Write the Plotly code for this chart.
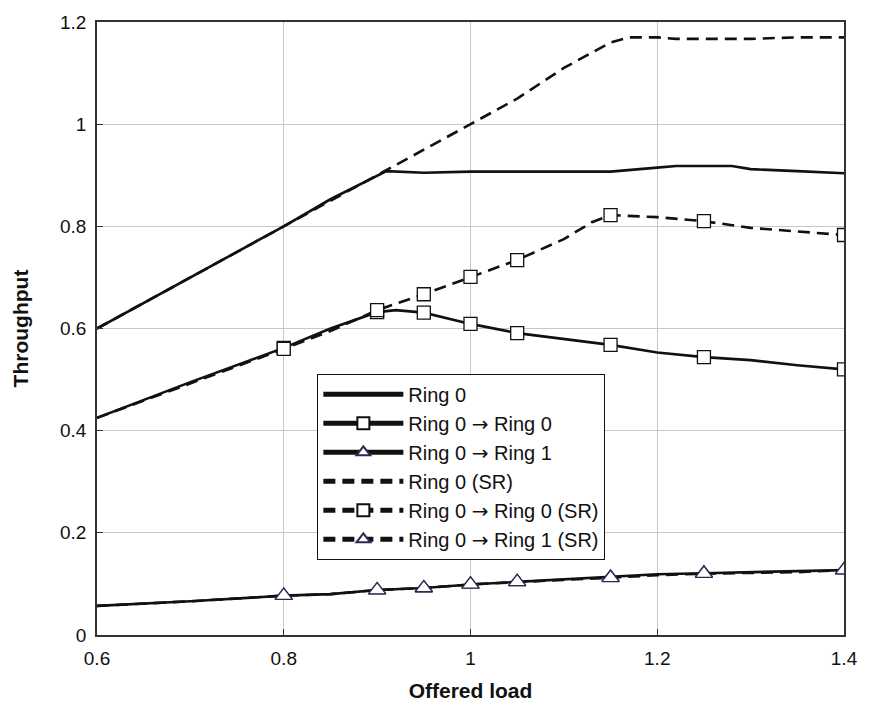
import plotly.graph_objects as go

# ---- data ----
ring0_x = [0.6, 0.7, 0.8, 0.85, 0.9, 0.91, 0.95, 1.0, 1.05, 1.1, 1.15, 1.2, 1.22, 1.28, 1.3, 1.35, 1.4]
ring0_y = [0.60, 0.70, 0.80, 0.853, 0.90, 0.908, 0.905, 0.907, 0.907, 0.907, 0.907, 0.915, 0.918, 0.918, 0.912, 0.908, 0.904]

ring0_sr_x = [0.6, 0.7, 0.8, 0.85, 0.9, 0.95, 1.0, 1.05, 1.1, 1.15, 1.17, 1.2, 1.22, 1.3, 1.35, 1.4]
ring0_sr_y = [0.60, 0.70, 0.80, 0.85, 0.90, 0.95, 1.0, 1.05, 1.11, 1.16, 1.17, 1.17, 1.167, 1.167, 1.17, 1.17]

r00_x = [0.6, 0.7, 0.8, 0.85, 0.9, 0.92, 0.95, 1.0, 1.05, 1.1, 1.15, 1.2, 1.25, 1.3, 1.35, 1.4]
r00_y = [0.425, 0.495, 0.562, 0.60, 0.632, 0.636, 0.631, 0.609, 0.591, 0.580, 0.568, 0.553, 0.544, 0.538, 0.528, 0.520]
r00_mark = [0, 0, 1, 0, 1, 0, 1, 1, 1, 0, 1, 0, 1, 0, 0, 1]

r00_sr_x = [0.6, 0.7, 0.8, 0.85, 0.9, 0.95, 1.0, 1.05, 1.1, 1.13, 1.15, 1.2, 1.25, 1.3, 1.35, 1.4]
r00_sr_y = [0.425, 0.492, 0.560, 0.595, 0.636, 0.667, 0.701, 0.734, 0.775, 0.808, 0.822, 0.818, 0.810, 0.797, 0.790, 0.783]
r00_sr_mark = [0, 0, 1, 0, 1, 1, 1, 1, 0, 0, 1, 0, 1, 0, 0, 1]

r01_x = [0.6, 0.7, 0.8, 0.85, 0.9, 0.95, 1.0, 1.05, 1.1, 1.15, 1.2, 1.25, 1.3, 1.35, 1.4]
r01_y = [0.057, 0.066, 0.077, 0.080, 0.088, 0.092, 0.099, 0.104, 0.109, 0.113, 0.119, 0.121, 0.123, 0.125, 0.127]
r01_mark = [0, 0, 1, 0, 1, 1, 1, 1, 0, 1, 0, 1, 0, 0, 1]

r01_sr_x = [0.6, 0.7, 0.8, 0.85, 0.9, 0.95, 1.0, 1.05, 1.1, 1.15, 1.2, 1.25, 1.3, 1.35, 1.4]
r01_sr_y = [0.057, 0.066, 0.077, 0.080, 0.088, 0.092, 0.099, 0.104, 0.108, 0.112, 0.117, 0.120, 0.121, 0.123, 0.127]
r01_sr_mark = [0, 0, 1, 0, 1, 1, 1, 1, 0, 1, 0, 1, 0, 0, 1]

ARROW = '<span style="font-family:DejaVu Sans">→</span>'
names = ["Ring 0", f"Ring 0 {ARROW} Ring 0", f"Ring 0 {ARROW} Ring 1",
         "Ring 0 (SR)", f"Ring 0 {ARROW} Ring 0 (SR)", f"Ring 0 {ARROW} Ring 1 (SR)"]

LINE = "#111111"
DASH = "12px,7px"

fig = go.Figure()

def add(x, y, name, dash, mark=None, symbol=None, msize=13, mcolor="#111111"):
    if mark is None:
        fig.add_trace(go.Scatter(x=x, y=y, name=name, mode="lines",
                                 line=dict(color=LINE, width=2.6, dash=dash)))
    else:
        sizes = [msize if m else 0 for m in mark]
        fig.add_trace(go.Scatter(x=x, y=y, name=name, mode="lines+markers",
                                 line=dict(color=LINE, width=2.6, dash=dash),
                                 marker=dict(symbol=symbol, size=sizes, color="#ffffff",
                                             opacity=1,
                                             line=dict(color=mcolor, width=1.3))))

add(ring0_x, ring0_y, names[0], "solid")
add(r00_x, r00_y, names[1], "solid", r00_mark, "square", 13)
add(r01_x, r01_y, names[2], "solid", r01_mark, "triangle-up", 15, "#2a2a55")
add(ring0_sr_x, ring0_sr_y, names[3], DASH)
add(r00_sr_x, r00_sr_y, names[4], DASH, r00_sr_mark, "square", 13)
add(r01_sr_x, r01_sr_y, names[5], DASH, r01_sr_mark, "triangle-up", 15, "#2a2a55")

axis_common = dict(showline=True, linecolor="#333333", linewidth=1.5, mirror=True,
                   ticks="inside", ticklen=6, tickcolor="#333333", tickwidth=1.2,
                   showgrid=True, gridcolor="#c8c8c8", gridwidth=1, zeroline=False,
                   ticklabelstandoff=5,
                   tickfont=dict(family="Liberation Sans, Arial", size=19, color="#111111"))

fig.update_layout(
    width=870, height=716,
    margin=dict(l=97, r=21, t=22, b=81),
    plot_bgcolor="white", paper_bgcolor="white",
    font=dict(family="Liberation Sans, Arial", color="#111111"),
    xaxis=dict(range=[0.6, 1.4], dtick=0.2, tick0=0.6,
               title=dict(text="<b>Offered load</b>", font=dict(size=21), standoff=16),
               **axis_common),
    yaxis=dict(range=[0, 1.2], dtick=0.2, tick0=0,
               title=dict(text="<b>Throughput</b>", font=dict(size=21), standoff=26),
               **axis_common),
    legend=dict(x=0.295, y=0.426, xanchor="left", yanchor="top",
                bordercolor="#111111", borderwidth=1, bgcolor="white",
                font=dict(family="Liberation Sans, Arial", size=20, color="#111111"),
                itemsizing="constant", itemwidth=80),
    showlegend=True,
)

fig.write_html("out.html")
